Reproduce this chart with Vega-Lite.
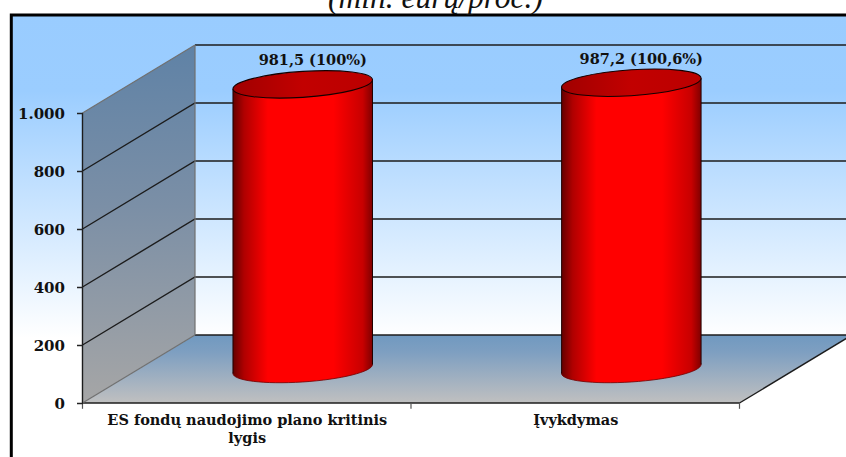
{
  "$schema": "https://vega.github.io/schema/vega-lite/v6.json",
  "width": 846,
  "height": 457,
  "padding": 0,
  "autosize": {"type": "none"},
  "background": "white",
  "config": {"view": {"stroke": null}},
  "datasets": {
    "frame": [{"x0": -0.2167, "x1": 2.5, "y0": -300, "y1": 1337.9}],
    "wall": [
      {"x": 0, "low": 0, "high": 1000},
      {"x": 0.3425, "low": 234.5, "high": 1234.5}
    ],
    "floor": [
      {"x": 0, "low": 0, "high": 0},
      {"x": 0.3425, "low": 0, "high": 234.5},
      {"x": 2, "low": 0, "high": 234.5},
      {"x": 2.3425, "low": 234.5, "high": 234.5}
    ],
    "grid": [
      {"level": 200, "x": 0, "y": 200}, {"level": 200, "x": 0.3425, "y": 434.5}, {"level": 200, "x": 2.3425, "y": 434.5},
      {"level": 400, "x": 0, "y": 400}, {"level": 400, "x": 0.3425, "y": 634.5}, {"level": 400, "x": 2.3425, "y": 634.5},
      {"level": 600, "x": 0, "y": 600}, {"level": 600, "x": 0.3425, "y": 834.5}, {"level": 600, "x": 2.3425, "y": 834.5},
      {"level": 800, "x": 0, "y": 800}, {"level": 800, "x": 0.3425, "y": 1034.5}, {"level": 800, "x": 2.3425, "y": 1034.5},
      {"level": 1000, "x": 0.3425, "y": 1234.5}, {"level": 1000, "x": 2.3425, "y": 1234.5},
      {"level": 0, "x": 0.3425, "y": 234.5}, {"level": 0, "x": 2.3425, "y": 234.5},
      {"level": -1, "x": 2, "y": 0}, {"level": -1, "x": 2.3425, "y": 234.5},
      {"level": -2, "x": 0, "y": 0}, {"level": -2, "x": 2, "y": 0}
    ],
    "edges": [
      {"edge": "top", "x": 0, "y": 1000}, {"edge": "top", "x": 0.3425, "y": 1234.5},
      {"edge": "bottom", "x": 0, "y": 0}, {"edge": "bottom", "x": 0.3425, "y": 234.5},
      {"edge": "back", "x": 0.3425, "y": 234.5}, {"edge": "back", "x": 0.3425, "y": 1234.5}
    ],
    "ticks": [{"x": 0, "y": 0, "y2": -20}, {"x": 1, "y": 0, "y2": -20}, {"x": 2, "y": 0, "y2": -20}],
    "titleRow": [{"x": 1.0746, "y": 1362, "text": "(mln. eurų/proc.)"}],
    "bars": [
      {"kategorija": "ES fondų naudojimo plano kritinis lygis", "value": 981.5, "label": "981,5 (100%)", "xc": 0.6705, "base": 117.25, "top": 1098.75},
      {"kategorija": "Įvykdymas", "value": 987.2, "label": "987,2 (100,6%)", "xc": 1.6706, "base": 117.25, "top": 1104.45}
    ],
    "sides": [
      {"kategorija": "ES fondų naudojimo plano kritinis lygis", "x": 0.4581, "base": 101.75, "top": 1083.25},
      {"kategorija": "ES fondų naudojimo plano kritinis lygis", "x": 0.8828, "base": 132.75, "top": 1114.25},
      {"kategorija": "Įvykdymas", "x": 1.4585, "base": 101.75, "top": 1088.95},
      {"kategorija": "Įvykdymas", "x": 1.883, "base": 132.75, "top": 1119.95}
    ]
  },
  "layer": [
    {
      "data": {"name": "frame"},
      "mark": {"type": "rect", "stroke": "#000000", "strokeWidth": 3, "fill": {"gradient": "linear", "x1": 0, "y1": 0, "x2": 0, "y2": 1, "stops": [{"offset": 0, "color": "#99ccff"}, {"offset": 0.16, "color": "#9bcdff"}, {"offset": 0.68, "color": "#ffffff"}, {"offset": 1, "color": "#ffffff"}]}},
      "encoding": {
        "x": {"field": "x0", "type": "quantitative", "scale": {"domain": [-0.2511, 2.3242], "nice": false, "zero": false},
          "axis": {"title": null, "orient": "bottom", "values": [0.5, 1.5], "offset": -54, "domain": false, "ticks": false, "grid": false, "zindex": 1, "labelPadding": 10, "labelFont": "DejaVu Serif", "labelFontWeight": "bold", "labelFontSize": 14.5, "labelLimit": 500, "labelColor": "#111111", "labelLineHeight": 18, "labelOverlap": false, "labelBound": false, "labelFlush": false, "labelBaseline": "top", "labelExpr": "datum.value < 1 ? ['ES fondų naudojimo plano kritinis', 'lygis'] : 'Įvykdymas'"}},
        "x2": {"field": "x1"},
        "y": {"field": "y0", "type": "quantitative", "scale": {"domain": [-186.2, 1389.66], "nice": false, "zero": false},
          "axis": {"title": null, "orient": "left", "values": [0, 200, 400, 600, 800, 1000], "offset": -82.5, "domain": false, "grid": false, "zindex": 1, "tickSize": 6, "tickColor": "#222222", "tickWidth": 1.5, "labelPadding": 12, "labelFont": "DejaVu Serif", "labelFontWeight": "bold", "labelFontSize": 15, "labelColor": "#111111", "labelOverlap": false, "labelBound": false, "labelExpr": "replace(format(datum.value, ','), ',', '.')"}},
        "y2": {"field": "y1"}
      }
    },
    {
      "data": {"name": "titleRow"},
      "mark": {"type": "text", "font": "Liberation Serif", "fontStyle": "italic", "fontSize": 31.5, "color": "#111111", "align": "center", "baseline": "alphabetic"},
      "encoding": {"x": {"field": "x", "type": "quantitative"}, "y": {"field": "y", "type": "quantitative"}, "text": {"field": "text"}}
    },
    {
      "data": {"name": "wall"},
      "mark": {"type": "area", "fill": {"gradient": "linear", "x1": 0, "y1": 0, "x2": 0, "y2": 1, "stops": [{"offset": 0, "color": "#5f82a6"}, {"offset": 0.45, "color": "#7b8fa6"}, {"offset": 1, "color": "#a6a6a6"}]}},
      "encoding": {"x": {"field": "x", "type": "quantitative"}, "y": {"field": "high", "type": "quantitative"}, "y2": {"field": "low"}}
    },
    {
      "data": {"name": "floor"},
      "mark": {"type": "area", "fill": {"gradient": "linear", "x1": 0, "y1": 0, "x2": 0, "y2": 1, "stops": [{"offset": 0, "color": "#7099c0"}, {"offset": 0.25, "color": "#7e9fc1"}, {"offset": 1, "color": "#c0c0c0"}]}},
      "encoding": {"x": {"field": "x", "type": "quantitative"}, "y": {"field": "high", "type": "quantitative"}, "y2": {"field": "low"}}
    },
    {
      "data": {"name": "grid"},
      "mark": {"type": "line", "color": "#1c1c1c", "strokeWidth": 1.4},
      "encoding": {"x": {"field": "x", "type": "quantitative"}, "y": {"field": "y", "type": "quantitative"}, "detail": {"field": "level"}}
    },
    {
      "data": {"name": "edges"},
      "mark": {"type": "line", "color": "#707070", "strokeWidth": 1.2},
      "encoding": {"x": {"field": "x", "type": "quantitative"}, "y": {"field": "y", "type": "quantitative"}, "detail": {"field": "edge"}}
    },
    {
      "data": {"values": [{"x": 0, "y": 0, "y2": 1000}]},
      "mark": {"type": "rule", "color": "#1c1c1c", "strokeWidth": 1.4},
      "encoding": {"x": {"field": "x", "type": "quantitative"}, "y": {"field": "y", "type": "quantitative"}, "y2": {"field": "y2"}}
    },
    {
      "data": {"name": "ticks"},
      "mark": {"type": "rule", "color": "#555555", "strokeWidth": 1.2},
      "encoding": {"x": {"field": "x", "type": "quantitative"}, "y": {"field": "y", "type": "quantitative"}, "y2": {"field": "y2"}}
    },
    {
      "data": {"name": "bars"},
      "mark": {"type": "point", "filled": true, "size": 19460, "opacity": 1, "shape": "M1,-.0645C1,.0382,.5523,.1504,0,.186C-.5523,.2216,-1,.1672,-1,.0645C-1,-.0382,-.5523,-.1504,0,-.186C.5523,-.2216,1,-.1672,1,-.0645Z", "stroke": "#700000", "strokeWidth": 0.8, "fill": {"gradient": "linear", "x1": 0, "y1": 0, "x2": 1, "y2": 0, "stops": [{"offset": 0, "color": "#640000"}, {"offset": 0.08, "color": "#b00000"}, {"offset": 0.25, "color": "#ff0000"}, {"offset": 0.72, "color": "#ff0000"}, {"offset": 0.93, "color": "#c80000"}, {"offset": 1, "color": "#800000"}]}},
      "encoding": {"x": {"field": "xc", "type": "quantitative"}, "y": {"field": "base", "type": "quantitative"}}
    },
    {
      "data": {"name": "sides"},
      "mark": {"type": "area", "fill": {"gradient": "linear", "x1": 0, "y1": 0, "x2": 1, "y2": 0, "stops": [{"offset": 0, "color": "#640000"}, {"offset": 0.08, "color": "#b00000"}, {"offset": 0.25, "color": "#ff0000"}, {"offset": 0.72, "color": "#ff0000"}, {"offset": 0.93, "color": "#c80000"}, {"offset": 1, "color": "#800000"}]}},
      "encoding": {"x": {"field": "x", "type": "quantitative"}, "y": {"field": "top", "type": "quantitative"}, "y2": {"field": "base"}, "detail": {"field": "kategorija"}}
    },
    {
      "data": {"name": "sides"},
      "mark": {"type": "rule", "color": "#200000", "strokeWidth": 1},
      "encoding": {"x": {"field": "x", "type": "quantitative"}, "y": {"field": "top", "type": "quantitative"}, "y2": {"field": "base"}}
    },
    {
      "data": {"name": "bars"},
      "mark": {"type": "point", "filled": true, "size": 19460, "opacity": 1, "shape": "M1,-.0645C1,.0382,.5523,.1504,0,.186C-.5523,.2216,-1,.1672,-1,.0645C-1,-.0382,-.5523,-.1504,0,-.186C.5523,-.2216,1,-.1672,1,-.0645Z", "stroke": "#150000", "strokeWidth": 1.1, "fill": {"gradient": "linear", "x1": 0, "y1": 0, "x2": 1, "y2": 0, "stops": [{"offset": 0, "color": "#a00000"}, {"offset": 0.5, "color": "#c20000"}, {"offset": 1, "color": "#bb0000"}]}},
      "encoding": {"x": {"field": "xc", "type": "quantitative"}, "y": {"field": "top", "type": "quantitative"}}
    },
    {
      "data": {"name": "bars"},
      "mark": {"type": "text", "font": "DejaVu Serif", "fontWeight": "bold", "fontSize": 14.5, "color": "#111111", "dx": 10, "dy": -19, "baseline": "alphabetic", "align": "center"},
      "encoding": {"x": {"field": "xc", "type": "quantitative"}, "y": {"field": "top", "type": "quantitative"}, "text": {"field": "label"}}
    }
  ]
}
